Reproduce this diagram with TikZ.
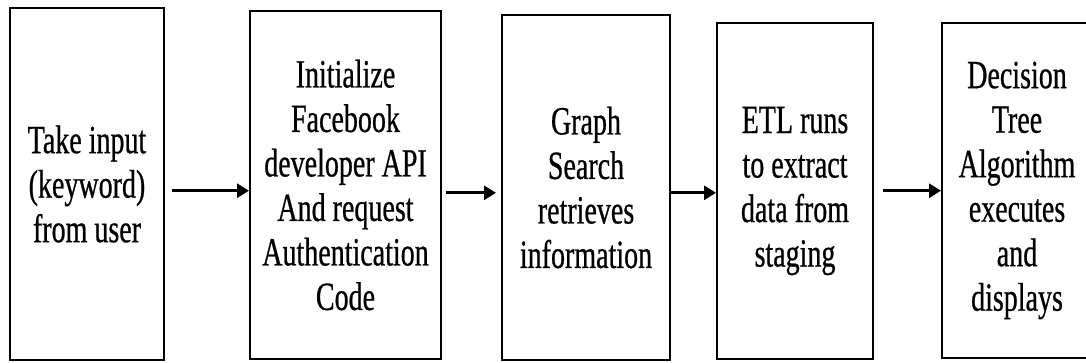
\documentclass[tikz,border=0pt]{standalone}
\usepackage{fontspec}
\setmainfont{Liberation Serif}[FakeStretch=0.70,FakeBold=0.6]
\usetikzlibrary{arrows.meta}
\begin{document}
\begin{tikzpicture}[x=1pt,y=-1pt,
  stage/.style={draw=black, line width=2pt, inner sep=0pt, align=center,
    font=\fontsize{40pt}{44.5pt}\selectfont},
  arr/.style={line width=2.8pt, -{Triangle[length=12pt,width=14pt]}}]
\useasboundingbox (0,0) rectangle (1086,362);
\node[stage, minimum width=154pt, minimum height=352pt] (b1) at (87,184)
  {Take input\\(keyword)\\from user};
\node[stage, minimum width=191pt, minimum height=348pt] (b2) at (345.5,185)
  {Initialize\\Facebook\\developer API\\And request\\Authentication\\Code};
\node[stage, minimum width=168pt, minimum height=345pt] (b3) at (586,187.5)
  {Graph\\Search\\retrieves\\information};
\node[stage, minimum width=156pt, minimum height=336pt] (b4) at (795,191)
  {ETL runs\\to extract\\data from\\staging};
\node[stage, minimum width=150pt, minimum height=335pt] (b5) at (1017,190.5)
  {Decision\\Tree\\Algorithm\\executes\\and\\displays};
\coordinate (ya) at (0,190.7);
\coordinate (yb) at (0,192.8);
\draw[arr, shorten <=7pt] (b1.east |- ya) -- (b2.west |- ya);
\draw[arr, shorten <=4pt, shorten >=5pt] (b2.east |- yb) -- (b3.west |- yb);
\draw[arr] (b3.east |- yb) -- (b4.west |- yb);
\draw[arr, shorten <=9pt] (b4.east |- ya) -- (b5.west |- ya);
\end{tikzpicture}
\end{document}
